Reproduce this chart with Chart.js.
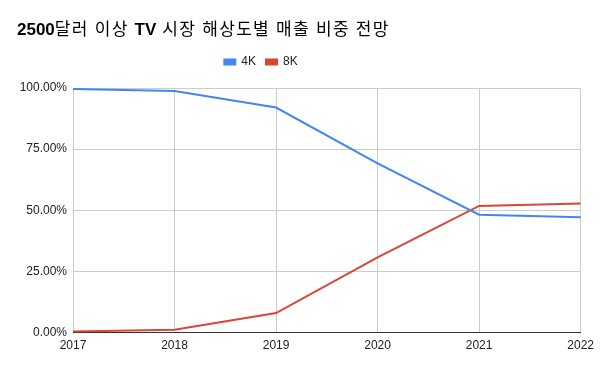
<!DOCTYPE html>
<html>
<head>
<meta charset="utf-8">
<script src="https://cdn.jsdelivr.net/npm/chart.js@4/dist/chart.umd.min.js"></script>
<style>
  html, body { margin: 0; padding: 0; background: #fff; }
  #wrap { width: 600px; height: 371px; }
</style>
</head>
<body>
<div id="wrap"><canvas id="chart" width="600" height="371"></canvas></div>
<script>
// 데이터
const years = ["2017", "2018", "2019", "2020", "2021", "2022"];
const share4K = [99.6, 98.8, 92.0, 69.2, 48.2, 47.2];
const share8K = [0.4, 1.2, 8.0, 30.8, 51.8, 52.8];
const yTicks = [0, 25, 50, 75, 100];

// 제목: 라틴 글자는 굵게, 한글은 보통 두께
const titleParts = [
    ["2500", true], ["달러 이상 ", false], ["TV", true],
    [" 시장 해상도별 매출 비중 전망", false],
];

const latin = "'Liberation Sans', Arial";
const fontFamily = latin + ", 'Noto Sans CJK KR', sans-serif";

const titlePlugin = {
    id: "mixedTitle",
    afterDraw(chart) {
        const c = chart.ctx;
        let x = 17;
        c.save();
        c.fillStyle = "#000";
        c.textBaseline = "alphabetic";
        titleParts.forEach(([txt, bold]) => {
            c.font = (bold ? "bold " : "") + "17px " + fontFamily;
            c.letterSpacing = bold ? "0px" : "1.3px";
            c.fillText(txt, x, 35);
            x += c.measureText(txt).width;
        });
        c.restore();
    },
};

// 범례를 왼쪽으로 이동
const legendShift = {
    id: "legendShift",
    afterLayout(chart) {
        const lg = chart.legend;
        lg.left -= 38;
        lg.right -= 38;
    },
};

const ctx = document.getElementById("chart").getContext("2d");
const chart = new Chart(ctx, {
    type: "line",
    data: {
        labels: years,
        datasets: [{
            label: "4K",
            data: share4K,
            borderColor: "#4285f4",
            backgroundColor: "#4285f4",
            borderWidth: 2,
            pointRadius: 0,
            tension: 0,
        }, {
            label: "8K",
            data: share8K,
            borderColor: "#db4437",
            backgroundColor: "#db4437",
            borderWidth: 2,
            pointRadius: 0,
            tension: 0,
        }],
    },
    plugins: [titlePlugin, legendShift],
    options: {
        responsive: false,
        animation: false,
        layout: { padding: { left: 17, right: 19, top: 46, bottom: 12 } },
        plugins: {
            title: { display: false },
            // 범례와 그래프 사이 여백
            subtitle: {
                display: true,
                text: "",
                weight: 500,
                font: { size: 1 },
                padding: { top: 0, bottom: 8.8 },
            },
            legend: {
                display: true,
                labels: {
                    boxWidth: 11,
                    boxHeight: 5,
                    color: "#222",
                    font: { family: fontFamily, size: 12 },
                    padding: 10,
                },
            },
            tooltip: { enabled: false },
        },
        scales: {
            x: {
                grid: { color: "#cccccc", drawTicks: false },
                border: { color: "#333333", width: 1 },
                ticks: {
                    color: "#222",
                    padding: 6,
                    maxRotation: 0,
                    font: { family: fontFamily, size: 12 },
                },
            },
            y: {
                min: 0,
                max: 100,
                afterBuildTicks: s => { s.ticks = yTicks.map(v => ({ value: v })); },
                afterFit: s => { s.width = 56; },
                grid: { color: "#cccccc", drawTicks: false },
                border: { display: false },
                ticks: {
                    color: "#222",
                    padding: 6,
                    font: { family: fontFamily, size: 12 },
                    callback: v => v.toFixed(2) + "%",
                },
            },
        },
    },
});
</script>
</body>
</html>
